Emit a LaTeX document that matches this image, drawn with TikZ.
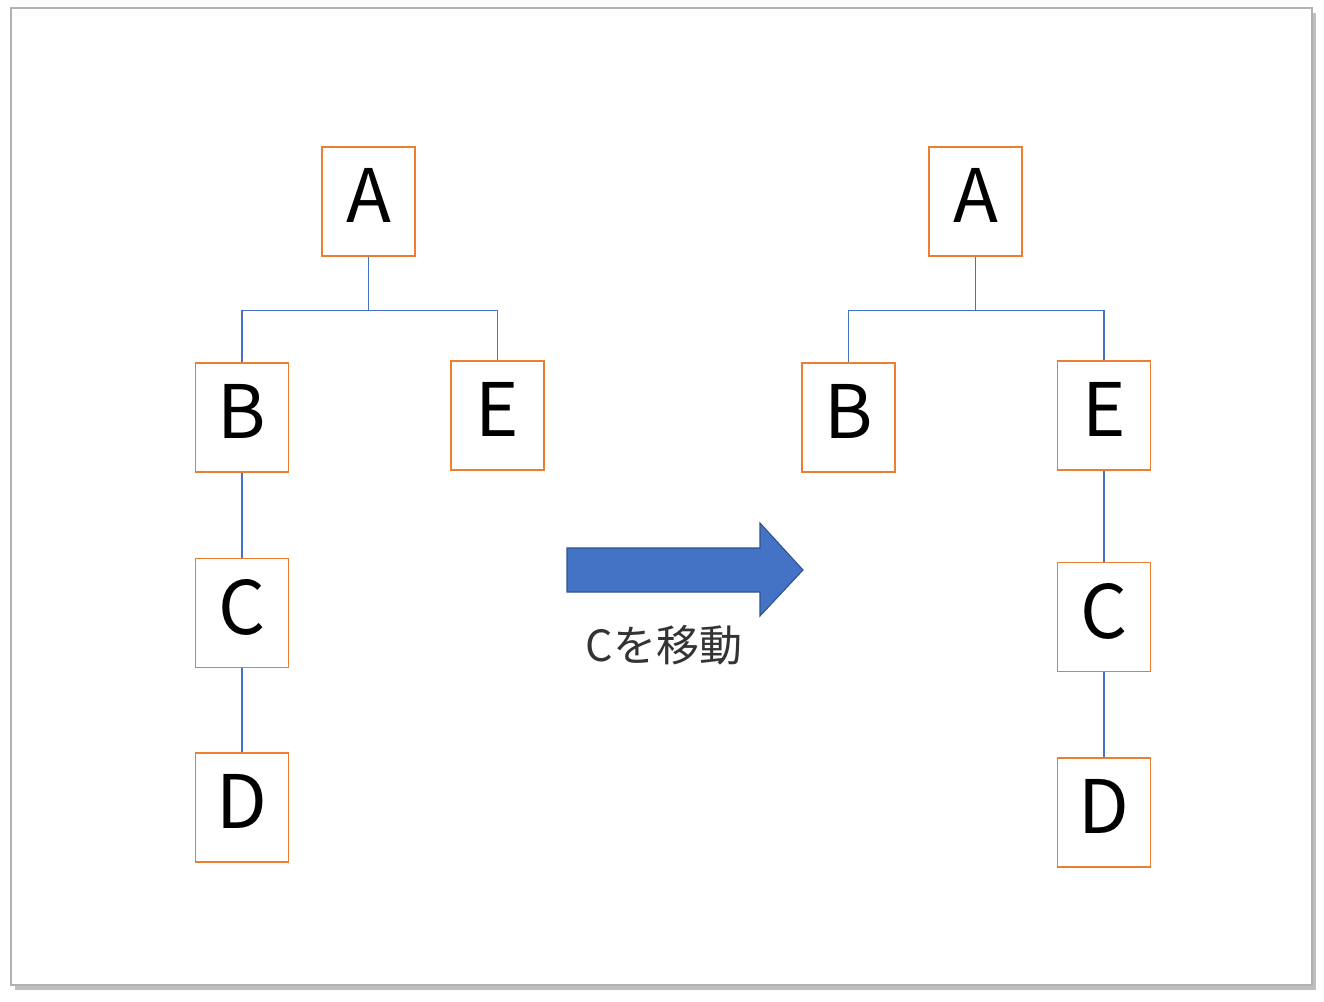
\documentclass[tikz,border=0pt]{standalone}
\usepackage{fontspec}
\setmainfont{Noto Sans CJK JP}
\definecolor{boxorange}{HTML}{ED7D31}
\definecolor{linkblue}{HTML}{4472C4}
\definecolor{arrowedge}{HTML}{2F528F}
\begin{document}
\begin{tikzpicture}[x=0.02cm,y=-0.02cm]
	\tikzset{treenode/.style = {shape=rectangle,draw=boxorange,line width=0.8pt,minimum width=1.86cm,minimum height=2.18cm,inner sep=0pt,text depth=0.24cm,font=\fontsize{42}{50}\selectfont}}
	\tikzset{link/.style = {draw=linkblue,line width=0.9pt}}
	\useasboundingbox (0,0) rectangle (1324,1001);
	% slide frame
	\fill[black!25] (15,13) rectangle (1316,990);
	\draw[black!30,fill=white,line width=0.8pt] (11,8) rectangle (1312,985);
	% before
	\node[treenode] (a1) at (368.5,201.5) {A};
	\node[treenode] (b1) at (242,417.5) {B};
	\node[treenode] (e1) at (497.5,415.5) {E};
	\node[treenode] (c1) at (242,613) {C};
	\node[treenode] (d1) at (242,807.5) {D};
	\path[link] (a1.south) -- ++(0,54) -| (b1.north);
	\path[link] (a1.south) -- ++(0,54) -| (e1.north);
	\path[link] (b1) -- (c1);
	\path[link] (c1) -- (d1);
	% after
	\node[treenode] (a2) at (975.5,201.5) {A};
	\node[treenode] (b2) at (848.5,417.5) {B};
	\node[treenode] (e2) at (1104,415.5) {E};
	\node[treenode] (c2) at (1104,617) {C};
	\node[treenode] (d2) at (1104,812.5) {D};
	\path[link] (a2.south) -- ++(0,54) -| (b2.north);
	\path[link] (a2.south) -- ++(0,54) -| (e2.north);
	\path[link] (e2) -- (c2);
	\path[link] (c2) -- (d2);
	% move arrow
	\draw[fill=linkblue,draw=arrowedge,line width=0.6pt] (567,548) -- (760,548) -- (760,523) -- (803,570) -- (760,616) -- (760,592) -- (567,592) -- cycle;
	\node[font=\fontsize{24.5}{30}\selectfont,text=black!80] (move) at (664,645) {Cを移動};
\end{tikzpicture}
\end{document}
